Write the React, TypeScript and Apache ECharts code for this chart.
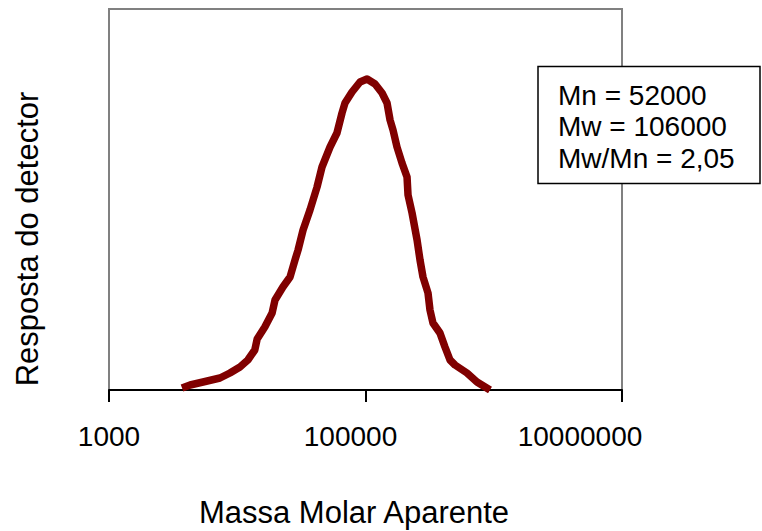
import React, { useEffect, useRef } from "react";
import * as echarts from "echarts";

// Apparent molar mass (g/mol) and detector response (arbitrary units)
const molarMass = [
  3710, 4290, 5410, 7330, 8770, 10500, 12100, 13700, 14300, 16400, 18700, 19700,
  22700, 25800, 28200, 29800, 32600, 36900, 41900, 45800, 52900, 59900, 65600,
  69200, 78500, 90600, 102800, 118700, 134600, 147200, 155400, 163900, 176000,
  192600, 210800, 214600, 230700, 252400, 266100, 280800, 307200, 318300, 335800,
  380700, 416600, 455900, 498800, 618600, 740000, 935000,
];
const response = [
  2, 5, 8, 12, 17, 23, 30, 40, 51, 63, 77, 90,
  103, 113, 130, 140, 160, 180, 203, 223, 243, 257, 277,
  287, 298, 308, 311, 306, 297, 287, 270, 260, 243,
  227, 213, 195, 177, 150, 130, 113, 97, 80, 67,
  57, 43, 30, 25, 17, 8, 0,
];
const xMin = 1000;
const xMax = 10000000;
const xTickLabels = ["1000", "100000", "10000000"];
const statLines = ["Mn = 52000", "Mw = 106000", "Mw/Mn = 2,05"];
const xTitle = "Massa Molar Aparente";
const yTitle = "Resposta do detector";

const FONT = "'Liberation Sans', Arial, Helvetica, sans-serif";

export default function App() {
  const ref = useRef<HTMLDivElement>(null);
  useEffect(() => {
    if (!ref.current) return;
    const chart = echarts.init(ref.current, null, { renderer: "svg" });
    const data = molarMass.map((m, i) => [m, response[i]]);
    const labelStyle = {
      color: "#000000",
      fontSize: 28,
      fontFamily: FONT,
    };
    chart.setOption({
      animation: false,
      backgroundColor: "#ffffff",
      grid: {
        left: 109,
        top: 9,
        right: 140,
        bottom: 141,
        show: true,
        borderColor: "#808080",
        borderWidth: 2,
        backgroundColor: "transparent",
      },
      xAxis: {
        type: "log",
        logBase: 10,
        min: xMin,
        max: xMax,
        interval: 2,
        axisLine: { show: true, lineStyle: { color: "#000000", width: 2 } },
        axisTick: { show: true, length: 12, lineStyle: { color: "#000000", width: 2 } },
        splitLine: { show: false },
        minorTick: { show: false },
        axisLabel: {
          ...labelStyle,
          margin: 32,
          formatter: (v: number) => {
            const s = String(Math.round(v));
            const idx = xTickLabels.indexOf(s);
            const key = ["a", "b", "c"][idx] || "a";
            return "{" + key + "|" + s + "}";
          },
          rich: {
            a: { ...labelStyle, padding: [0, 0, 0, 0] },
            b: { ...labelStyle, padding: [0, 30, 0, 0] },
            c: { ...labelStyle, padding: [0, 84, 0, 0] },
          },
        },
      },
      yAxis: {
        type: "value",
        min: 0,
        max: 381,
        axisLine: { show: false },
        axisTick: { show: false },
        axisLabel: { show: false },
        splitLine: { show: false },
      },
      series: [
        {
          type: "line",
          data,
          showSymbol: false,
          symbol: "none",
          smooth: false,
          lineStyle: { color: "#800000", width: 7.5, cap: "butt", join: "round" },
        },
      ],
      graphic: [
        {
          type: "text",
          x: 354,
          y: 512,
          style: {
            text: xTitle,
            fontSize: 31,
            fontFamily: FONT,
            fill: "#000000",
            align: "center",
            verticalAlign: "middle",
          },
        },
        {
          type: "text",
          x: 27,
          y: 239,
          rotation: Math.PI / 2,
          style: {
            text: yTitle,
            fontSize: 31,
            fontFamily: FONT,
            fill: "#000000",
            align: "center",
            verticalAlign: "middle",
          },
        },
        {
          type: "rect",
          shape: { x: 538, y: 66.5, width: 222, height: 117 },
          style: { fill: "#ffffff", stroke: "#000000", lineWidth: 1.5 },
          z: 100,
        },
        ...statLines.map((t, i) => ({
          type: "text",
          x: 558,
          y: 95 + i * 31.5,
          z: 101,
          style: {
            text: t,
            fontSize: 28,
            fontFamily: FONT,
            fill: "#000000",
            align: "left",
            verticalAlign: "middle",
          },
        })),
      ],
    });
    return () => chart.dispose();
  }, []);
  return (
    <div
      ref={ref}
      style={{ position: "fixed", left: 0, top: 0, width: 762, height: 531 }}
    />
  );
}
